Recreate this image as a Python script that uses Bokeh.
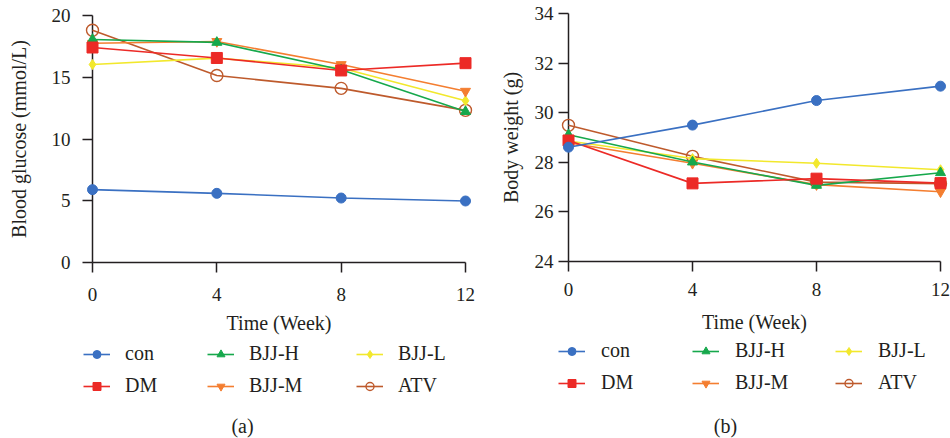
from bokeh.plotting import figure
from bokeh.models import Legend, LegendItem, Label, FixedTicker, Range1d
from bokeh.layouts import row, column
from bokeh.embed import file_html
from bokeh.resources import INLINE

weeks = [0, 4, 8, 12]
groups = ["con", "DM", "BJJ-H", "BJJ-M", "BJJ-L", "ATV"]
legend_columns = [["con", "DM"], ["BJJ-H", "BJJ-M"], ["BJJ-L", "ATV"]]

glucose = {
    "con":   [5.9, 5.6, 5.22, 4.98],
    "DM":    [17.41, 16.56, 15.55, 16.14],
    "BJJ-H": [18.06, 17.82, 15.6, 12.22],
    "BJJ-M": [17.75, 17.9, 16.03, 13.87],
    "BJJ-L": [16.03, 16.55, 15.75, 13.1],
    "ATV":   [18.8, 15.14, 14.1, 12.32],
}
weight = {
    "con":   [28.61, 29.5, 30.49, 31.07],
    "DM":    [28.88, 27.15, 27.34, 27.16],
    "BJJ-H": [29.11, 28.01, 27.07, 27.58],
    "BJJ-M": [28.79, 27.96, 27.1, 26.81],
    "BJJ-L": [28.86, 28.15, 27.96, 27.7],
    "ATV":   [29.49, 28.24, 27.2, 27.14],
}

colors = {"con": "#3A70C2", "DM": "#EC2A26", "BJJ-H": "#16A84C",
          "BJJ-M": "#F47E30", "BJJ-L": "#F2E82C", "ATV": "#BE5A2C"}
markers = {"con": "circle", "DM": "square", "BJJ-H": "triangle",
           "BJJ-M": "inverted_triangle", "BJJ-L": "diamond", "ATV": "circle"}
sizes = {"con": 10, "DM": 11, "BJJ-H": 10, "BJJ-M": 10, "BJJ-L": 10, "ATV": 12}
draw_order = ["ATV", "BJJ-L", "BJJ-M", "BJJ-H", "DM", "con"]

FONT = "Liberation Serif"
INK = "#231F20"
MAIN_H = 338
LEG_H = 100


def add_series(p, data, level):
    rends = {}
    for g in draw_order:
        ln = p.line(weeks, data[g], line_color=colors[g], line_width=1.6,
                    level=level)
        if g == "ATV":
            sc = p.scatter(weeks, data[g], marker=markers[g], size=sizes[g],
                           line_color=colors[g], fill_alpha=0, line_width=1.4,
                           level=level)
        else:
            sc = p.scatter(weeks, data[g], marker=markers[g], size=sizes[g],
                           line_color=colors[g], fill_color=colors[g],
                           level=level)
        rends[g] = [ln, sc]
    return rends


def panel(data, y_range, y_ticks, y_label, tag, cfg):
    p = figure(width=cfg["width"], height=MAIN_H, output_backend="svg",
               toolbar_location=None, x_range=Range1d(0, 12),
               y_range=Range1d(*y_range), min_border_left=cfg["left"],
               min_border_right=cfg["width"] - cfg["left"] - cfg["fw"],
               min_border_top=cfg["top"],
               min_border_bottom=MAIN_H - cfg["top"] - cfg["fh"])
    p.frame_align = False
    p.grid.visible = False
    p.outline_line_color = None
    add_series(p, data, "overlay")
    for ax in (p.xaxis[0], p.yaxis[0]):
        ax.axis_line_color = INK
        ax.axis_line_width = 1.5
        ax.major_tick_line_color = INK
        ax.major_tick_line_width = 1.5
        ax.major_tick_out = 10
        ax.major_tick_in = 0
        ax.minor_tick_line_color = None
        ax.major_label_text_font = FONT
        ax.major_label_text_font_size = "19px"
        ax.major_label_text_color = INK
        ax.axis_label_text_font = FONT
        ax.axis_label_text_font_size = "20px"
        ax.axis_label_text_font_style = "normal"
        ax.axis_label_text_color = INK
    p.xaxis.ticker = FixedTicker(ticks=weeks)
    p.yaxis.ticker = FixedTicker(ticks=y_ticks)
    p.xaxis.axis_label = "Time (Week)"
    p.yaxis.axis_label = y_label
    p.xaxis.major_label_standoff = cfg["xs"]
    p.yaxis.major_label_standoff = cfg["ys"]
    p.xaxis.axis_label_standoff = cfg["xls"]
    p.yaxis.axis_label_standoff = cfg["yls"]

    # legend strip under the plot: its own series sit outside its ranges,
    # so only the legend entries and the panel tag are visible
    q = figure(width=cfg["width"], height=LEG_H, output_backend="svg",
               toolbar_location=None, x_range=Range1d(1000, 1000 + cfg["width"]),
               y_range=Range1d(1000, 1000 + LEG_H), min_border=0)
    q.frame_align = False
    q.axis.visible = False
    q.grid.visible = False
    q.outline_line_color = None
    rends = add_series(q, data, "glyph")
    for col, x0 in zip(legend_columns, cfg["leg_x"]):
        items = [LegendItem(label=g, renderers=rends[g]) for g in col]
        leg = Legend(items=items, orientation="vertical",
                     location=(x0, cfg["leg_y"]), label_text_font=FONT,
                     label_text_font_size="20px", label_text_color=INK,
                     glyph_width=27, glyph_height=20, label_height=20,
                     label_standoff=cfg["lstand"], spacing=9, padding=0,
                     margin=0, border_line_color=None,
                     background_fill_alpha=0)
        q.add_layout(leg, "center")
    q.add_layout(Label(x=cfg["tag_x"], y=cfg["tag_y"], x_units="screen",
                       y_units="screen", text=tag, text_font=FONT,
                       text_font_size="20px", text_color=INK,
                       text_align="center", text_baseline="middle"))
    return column(p, q, spacing=0)


cfg_a = dict(width=475, left=92, fw=373, top=15, fh=247, xs=15, ys=12,
             xls=8, yls=19, leg_x=[83, 207, 356], leg_y=41, lstand=15,
             tag_x=242, tag_y=13)
cfg_b = dict(width=475, left=93, fw=372, top=13, fh=248, xs=11, ys=5,
             xls=12, yls=10, leg_x=[83, 217, 360], leg_y=44, lstand=16,
             tag_x=250, tag_y=13)

pa = panel(glucose, (0, 20), [0, 5, 10, 15, 20], "Blood glucose (mmol/L)",
           "(a)", cfg_a)
pb = panel(weight, (24, 34), [24, 26, 28, 30, 32, 34], "Body weight (g)",
           "(b)", cfg_b)

layout = row(pa, pb, spacing=0)
open("out.html", "w").write(file_html(layout, INLINE))
